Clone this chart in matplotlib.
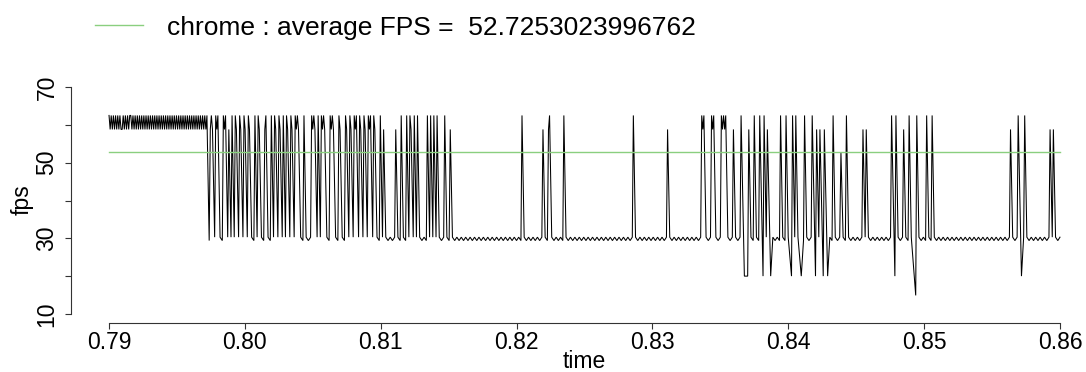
import numpy as np
import matplotlib
matplotlib.use("Agg")
import matplotlib.pyplot as plt
from matplotlib.lines import Line2D

plt.rcParams['font.family'] = ['Liberation Sans', 'DejaVu Sans']

# fps levels seen in the trace (frame times 16/17/19/33/34/50/67 ms)
fps_levels = {"H": 62.5, "M": 58.8, "P": 52.6, "L": 30.3, "l": 29.4, "D": 20.0, "B": 14.9}

# frame-by-frame fps, read left to right off the picture
seg_steady = ("HMHMHMHMHMHMMHMHMHMH"
              "HMHMHMHMHMHMHMHMHMHM"
              "HMHMHMHMHMHMHMHMHMHM"
              "HMHMHMHMHMHMHMHMHMHM"
              "HMHMHMHMHMH")
seg_busy = ("l" "MHML" "HMHLl" "HMHL" "ML" "HL" "HML" "HML" "HML" "HMLl" "HL"
            "HMLl" "MHLl" "HL" "HML" "HML" "HL" "HML" "HML" "HMHMLl" "HLlL"
            "HMHML" "HL" "HMHMLl" "HMHMLl" "HMLl" "HML" "HML" "HMHL" "HML"
            "HML" "HMHL" "HMLl" "HL" "MLlLlL" "ML"
            "lHLlHLHMLHLHLlLlHLHLHLHLlLHLlMLl")
seg_calm = ("LlLlLlLlLlLlLlLlLlLlLlLlLlLlLl" "HL"
            "lLlLlLlL" "MLlMHLl"
            "LlLl" "HL"
            "lLlLlLlLlLlLlLlLlLlLlLlLlLlLlL" "HL"
            "lLlLlLlLlLlLlL" "ML"
            "lLlLlLlLlLlLlL" "HMHLl")
seg_jank = ("LHMHLl" "LHMHMHLlL" "MLlLH" "DDMLlHLlHDH" "LMD" "LlLlH" "LlH"
            "LDH" "LH" "LD" "lH" "LlLH" "DML" "MDMDLlH" "LlLPLlHL"
            "lLlLlL" "MLML"
            "lLlLlLlLlL" "HDHLlLMLlHLBHLlLlHLlHL"
            "lLlLlLlLlLlLlLlLlLlLlLlLlLlLlLlLlL" "MLlLHDLHL"
            "lLlLlLlLlL" "MLMLlL")

avg_fps = 52.7253023996762
t_start, t_end = 0.79, 0.86
xtick_vals = [0.79, 0.80, 0.81, 0.82, 0.83, 0.84, 0.85, 0.86]
ytick_vals = [10, 20, 30, 40, 50, 60, 70]
ytick_labels = ["10", "", "30", "", "50", "", "70"]

codes = seg_steady + seg_busy + seg_calm + seg_jank
fps = np.array([fps_levels[c] for c in codes])
# timestamps follow the frame durations
elapsed = np.cumsum(1.0 / fps)
elapsed = elapsed - elapsed[0]
time = t_start + (t_end - t_start) * elapsed / elapsed[-1]

W, H = 1086, 372
fig = plt.figure(figsize=(W / 100, H / 100), dpi=100)
# plot region like R: 4% padding around the data range
ax = fig.add_axes([71 / W, 49 / H, 1027 / W, 245 / H])
pad_x = 0.04 * (t_end - t_start)
ax.set_xlim(t_start - pad_x, t_end + pad_x)
ax.set_ylim(7.6, 72.4)

ax.plot(time, fps, color='black', lw=0.75, solid_joinstyle='miter')
green = '#8ACF7F'
ax.plot([time[0], time[-1]], [avg_fps, avg_fps], color=green, lw=1.0)

for s in ['top', 'right']:
    ax.spines[s].set_visible(False)
ax.spines['left'].set_bounds(10, 70)
ax.spines['bottom'].set_bounds(t_start, t_end)
for s in ['left', 'bottom']:
    ax.spines[s].set_color('#333333')
    ax.spines[s].set_linewidth(0.8)

ax.set_xticks(xtick_vals)
ax.set_xticklabels([f"{v:.2f}" for v in xtick_vals])
ax.set_yticks(ytick_vals)
ax.set_yticklabels(ytick_labels, rotation=90, va='center')
ax.tick_params(axis='both', direction='out', length=4, width=0.8,
               color='#333333', labelsize=16.5)
ax.tick_params(axis='x', pad=2)
ax.tick_params(axis='y', pad=5)

fig.text(22 / W, 1 - 200 / H, 'fps', rotation=90, ha='center', va='center', fontsize=16.5)
fig.text(584 / W, 1 - 361 / H, 'time', ha='center', va='center', fontsize=16.5)

# legend (R style, no box)
fig.add_artist(Line2D([95 / W, 143 / W], [1 - 25 / H, 1 - 25 / H], color=green, lw=1.0))
fig.text(167 / W, 1 - 34.7 / H, 'chrome : average FPS =  52.7253023996762',
         ha='left', va='baseline', fontsize=19)

fig.savefig('out.png', dpi=100)
